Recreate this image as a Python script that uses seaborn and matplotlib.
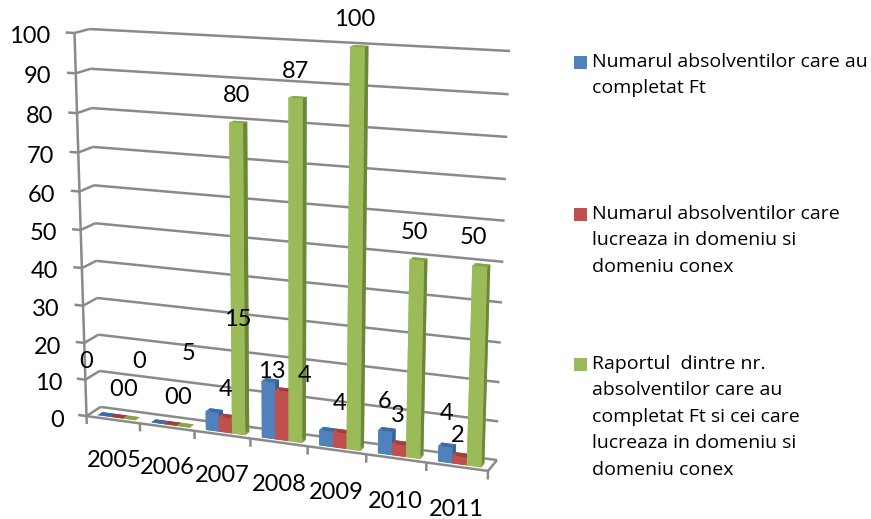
import numpy as np
import matplotlib
matplotlib.use("Agg")
import matplotlib.pyplot as plt
from matplotlib.patches import Rectangle
from mpl_toolkits.mplot3d import proj3d
from mpl_toolkits.mplot3d.art3d import Line3DCollection
import seaborn as sns

years = ["2005", "2006", "2007", "2008", "2009", "2010", "2011"]
completed = [0, 0, 5, 15, 4, 6, 4]
in_field = [0, 0, 4, 13, 4, 3, 2]
ratio = [0, 0, 80, 87, 100, 50, 50]
z_ticks = [0, 10, 20, 30, 40, 50, 60, 70, 80, 90, 100]
legend_lines = [
    "Numarul absolventilor care au\ncompletat Ft",
    "Numarul absolventilor care\nlucreaza in domeniu si\ndomeniu conex",
    "Raportul  dintre nr.\nabsolventilor care au\ncompletat Ft si cei care\nlucreaza in domeniu si\ndomeniu conex",
]
series = [completed, in_field, ratio]
colors = ["#4F81BD", "#C0504D", "#9BBB59"]
top_colors = ["#3F6CA3", "#9E3F3C", "#86A548"]
side_colors = ["#37608F", "#8A3533", "#6C873C"]

# pixel centres of the free-floating data labels, per series
label_px = [
    [(86, 361), (139, 361), (189, 354), (238, 319), (305, 376), (385, 401), (447, 413)],
    [(116, 390), (171, 397), (226, 390), (272, 372), (340, 404), (398, 415), (458, 436)],
    [(130, 390), (184, 397), (237, 95), (295, 72), (355, 19), (414, 232), (473, 238)],
]
legend_y = [50, 202, 352]
W, H = 871, 519

sns.set_theme(style="white")
plt.rcParams["font.family"] = ["Lato", "DejaVu Sans"]

fig = plt.figure(figsize=(W / 100, H / 100), dpi=100)
ax = fig.add_axes([0, 0, 1, 1], projection="3d")
ax.apply_aspect = lambda position=None: None
ax.set_axis_off()
ax.patch.set_alpha(0)

# camera fitted to the wall and floor corners of the reference
world = np.array([[0, 1, 100], [7, 1, 100], [7, 1, 0], [0, 1, 0],
                  [0, 0, 100], [0, 0, 0], [7, 0, 0]], float)
screen = np.array([[90, 29], [510, 51], [497, 460], [100, 407],
                   [74, 33], [87, 416], [488, 471]], float)
A, b = [], []
for (x, y, z), (u, v) in zip(world, screen):
    A.append([x, y, z, 1, 0, 0, 0, 0, -u * x, -u * y, -u * z]); b.append(u)
    A.append([0, 0, 0, 0, x, y, z, 1, -v * x, -v * y, -v * z]); b.append(v)
p = np.linalg.lstsq(np.array(A), np.array(b), rcond=None)[0]
row_u, row_v, row_w = p[:4], p[4:8], np.r_[p[8:], 1.0]
inv = ax.transData.inverted().get_matrix()
row_dy = H * row_w - row_v
M = np.array([
    inv[0, 0] * row_u + inv[0, 2] * row_w,
    inv[1, 1] * row_dy + inv[1, 2] * row_w,
    np.array([0, 1.0, 0, 0.0]),
    row_w,
])
ax.get_proj = lambda: M
ax.computed_zorder = False


def label3d(x, y, z, text, **kw):
    """Place a text at a 3D position, projected to the plane of the axes."""
    u, v, _ = proj3d.proj_transform(x, y, z, M)
    ax.text2D(u, v, text, transform=ax.transData, color="black", **kw)


n = len(years)
segments = []
for z in z_ticks:
    segments.append([(0, 1, z), (n, 1, z)])
    segments.append([(0, 0, z), (0, 1, z)])
    segments.append([(-0.16, 0, z), (0, 0, z)])
    label3d(-0.3, -0.5, z - 0.5, str(z), ha="right", va="center", fontsize=17)
segments.append([(0, 0, 0), (0, 0, 100)])
segments.append([(0, 0, 0), (n, 0, 0)])
segments.append([(n, 0, 0), (n, 1, 0)])
for i in range(n + 1):
    segments.append([(i, 0, 0), (i, 0, -2.2)])
ax.add_collection3d(Line3DCollection(segments, colors="#8A8A8A", linewidths=1.8, zorder=1))
for i, year in enumerate(years):
    label3d(i + 0.5, 0, -11.2, year, ha="center", va="center", fontsize=17)

bar_w, x_start, y_front, bar_d = 0.235, 0.155, 0.22, 0.33
for s, values in enumerate(series):
    xs = np.arange(n) + x_start + s * bar_w
    # order of faces: bottom, top, front, back, left, right
    face = [top_colors[s], top_colors[s], colors[s], colors[s], colors[s], side_colors[s]]
    ax.bar3d(xs, np.full(n, y_front), np.zeros(n), bar_w, bar_d, values,
             color=face * n, shade=False, zorder=2 + s, linewidth=0)

for values, places in zip(series, label_px):
    for v, (px, py) in zip(values, places):
        fig.text(px / W, 1 - py / H, str(v), ha="center", va="center",
                 fontsize=17, color="black")

for c, text, y0 in zip(colors, legend_lines, legend_y):
    fig.add_artist(Rectangle((574 / W, 1 - (y0 + 19) / H), 13 / W, 13 / H,
                             transform=fig.transFigure, facecolor=c, edgecolor="none"))
    fig.text(592 / W, 1 - (y0 + 3) / H, text, ha="left", va="top", fontsize=14,
             linespacing=1.6, color="black", family=["Open Sans", "DejaVu Sans"])

fig.savefig("out.png", dpi=100)
